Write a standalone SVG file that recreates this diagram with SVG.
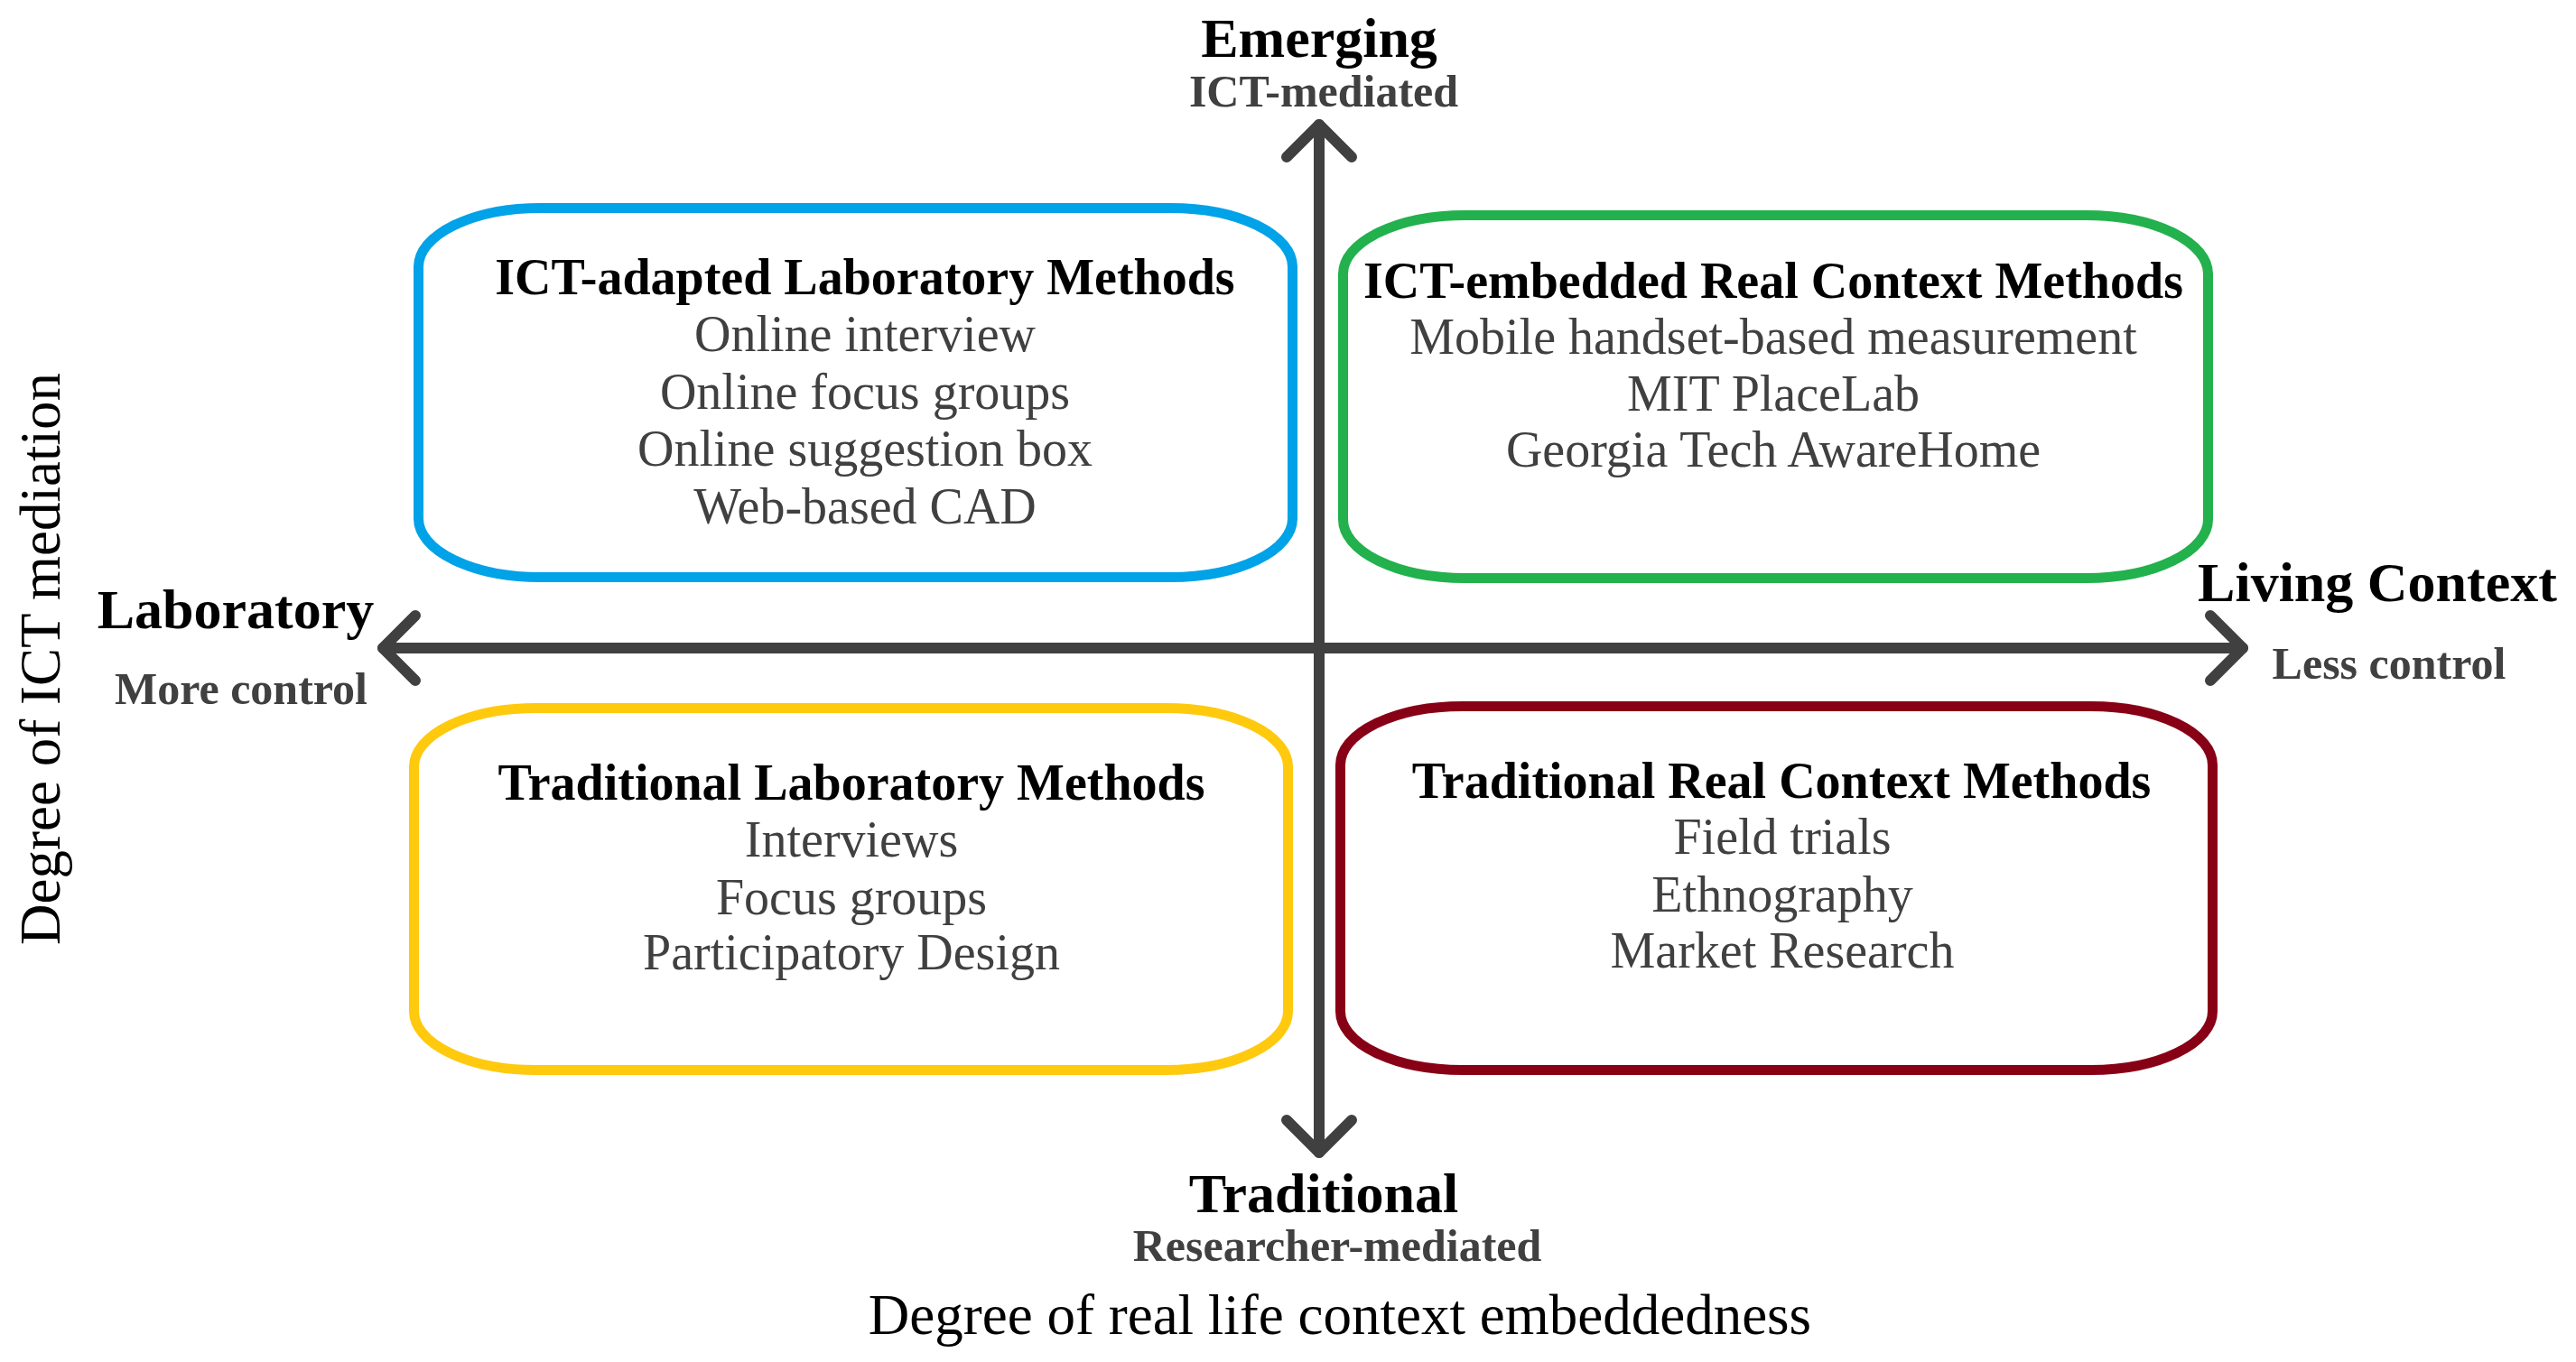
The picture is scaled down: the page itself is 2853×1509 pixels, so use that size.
<svg xmlns="http://www.w3.org/2000/svg" width="2853" height="1509" viewBox="0 0 2853 1509">
<defs>
<style>
.t{font-family:"Liberation Serif","Times New Roman",serif;text-anchor:middle}
.ttl{font-size:56px;font-weight:bold;fill:#000}
.itm{font-size:56px;fill:#404040}
.ax{font-size:62px;font-weight:bold;fill:#000}
.sub{font-size:50px;font-weight:bold;fill:#404040}
.nm{font-size:63px;fill:#000}
.box{fill:#fff;stroke-width:11}
.axis{stroke:#404040;stroke-width:12;fill:none;stroke-linecap:round}
</style>
<marker id="chev" markerUnits="userSpaceOnUse" orient="auto-start-reverse" refX="0" refY="0" markerWidth="100" markerHeight="100" viewBox="-50 -50 100 100" overflow="visible">
<path d="M-36,-36 L0,0 L-36,36" fill="none" stroke="#404040" stroke-width="12" stroke-linecap="round" stroke-linejoin="round"/>
</marker>
</defs>
<rect width="2853" height="1509" fill="#fff"/>

<g id="connectors">
<path class="axis" d="M1461,1277 L1461,138" marker-start="url(#chev)" marker-end="url(#chev)"/>
<path class="axis" d="M424,718 L2484,718" marker-start="url(#chev)" marker-end="url(#chev)"/>
</g>

<g id="box-ict-lab">
<rect class="box" x="463.5" y="230.5" width="968" height="409" rx="135" ry="65" stroke="#00A2E8"/>
<text class="t ttl" x="958" y="326">ICT-adapted Laboratory Methods</text>
<text class="t itm" x="958" y="389">Online interview</text>
<text class="t itm" x="958" y="453">Online focus groups</text>
<text class="t itm" x="958" y="516">Online suggestion box</text>
<text class="t itm" x="958" y="580">Web-based CAD</text>
</g>

<g id="box-ict-real">
<rect class="box" x="1487.5" y="238.5" width="958" height="402" rx="135" ry="65" stroke="#22B14C"/>
<text class="t ttl" x="1964" y="330">ICT-embedded Real Context Methods</text>
<text class="t itm" x="1964" y="392">Mobile handset-based measurement</text>
<text class="t itm" x="1964" y="455">MIT PlaceLab</text>
<text class="t itm" x="1964" y="517">Georgia Tech AwareHome</text>
</g>

<g id="box-trad-lab">
<rect class="box" x="458.5" y="784.5" width="968" height="401" rx="135" ry="65" stroke="#FFC90E"/>
<text class="t ttl" x="943" y="886">Traditional Laboratory Methods</text>
<text class="t itm" x="943" y="949">Interviews</text>
<text class="t itm" x="943" y="1013">Focus groups</text>
<text class="t itm" x="943" y="1074">Participatory Design</text>
</g>

<g id="box-trad-real">
<rect class="box" x="1484.5" y="782.5" width="966" height="403" rx="135" ry="65" stroke="#880015"/>
<text class="t ttl" x="1973" y="884">Traditional Real Context Methods</text>
<text class="t itm" x="1974" y="946">Field trials</text>
<text class="t itm" x="1974" y="1010">Ethnography</text>
<text class="t itm" x="1974" y="1072">Market Research</text>
</g>

<g id="label-emerging">
<text class="t ax" x="1461" y="63">Emerging</text>
<text class="t sub" x="1466" y="118">ICT-mediated</text>
</g>
<g id="label-traditional">
<text class="t ax" x="1466" y="1343">Traditional</text>
<text class="t sub" x="1481" y="1397">Researcher-mediated</text>
</g>
<g id="label-laboratory">
<text class="t ax" x="261" y="696">Laboratory</text>
<text class="t sub" x="267" y="780">More control</text>
</g>
<g id="label-living">
<text class="t ax" x="2633" y="666">Living Context</text>
<text class="t sub" x="2646" y="752">Less control</text>
</g>
<g id="axis-names">
<text class="t nm" x="1484" y="1478">Degree of real life context embeddedness</text>
<text class="t nm" transform="translate(66,730) rotate(-90)" x="0" y="0">Degree of ICT mediation</text>
</g>
</svg>
